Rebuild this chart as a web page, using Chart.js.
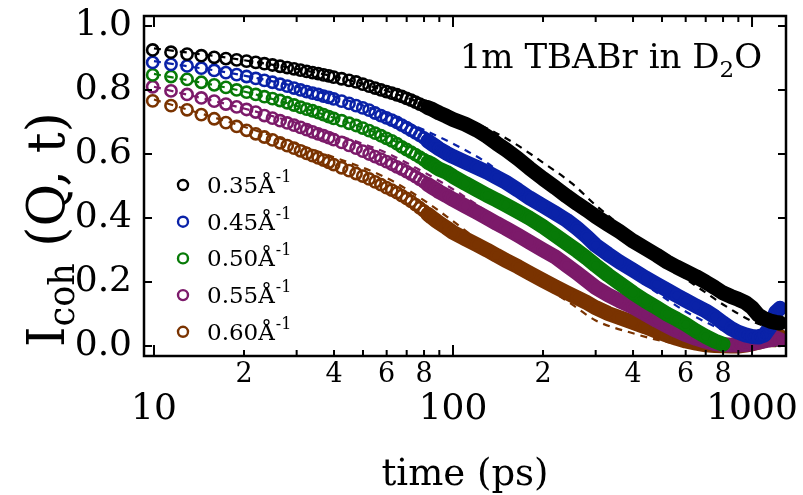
<!DOCTYPE html>
<html>
<head>
<meta charset="utf-8">
<script src="https://cdn.jsdelivr.net/npm/chart.js@4/dist/chart.umd.min.js"></script>
<style>
  body { margin: 0; background: #fff; }
</style>
</head>
<body>
<canvas id="chart" width="803" height="495"></canvas>
<script>
// time axis (ps)
const times = [
  9.9, 11.4, 12.9, 14.4, 15.9, 17.4, 18.9, 20.4, 21.9, 23.4, 24.9, 26.4, 27.9, 29.4, 30.9, 32.4, 33.9, 35.4, 36.9, 38.4, 39.9,
  42.4, 44.9, 47.4, 49.9, 52.4, 54.9, 57.4, 59.9, 62.4, 64.9, 67.4, 69.9, 72.4, 74.9, 77.4, 79.9, 82.4, 84.9, 87.4, 89.9,
  95, 100, 110, 120, 130, 140, 150, 165, 180, 200, 220, 240, 260, 280, 300, 330, 360, 400, 440, 480, 520, 560, 600, 650,
  700, 750, 800, 850, 900, 950, 1000, 1050, 1100, 1150, 1200, 1240
];

const q035 = [
  0.925, 0.918, 0.912, 0.907, 0.902, 0.898, 0.894, 0.890, 0.886, 0.882, 0.878, 0.874, 0.870, 0.866, 0.862, 0.858, 0.854, 0.851, 0.847, 0.844, 0.840,
  0.835, 0.830, 0.825, 0.818, 0.812, 0.806, 0.800, 0.795, 0.790, 0.785, 0.780, 0.774, 0.768, 0.762, 0.756, 0.750, 0.745, 0.740, 0.734, 0.728,
  0.718, 0.708, 0.693, 0.675, 0.655, 0.633, 0.614, 0.585, 0.556, 0.523, 0.495, 0.468, 0.445, 0.425, 0.405, 0.380, 0.358, 0.328, 0.305, 0.284,
  0.263, 0.247, 0.233, 0.217, 0.200, 0.183, 0.166, 0.155, 0.146, 0.136, 0.120, 0.097, 0.085, 0.078, 0.074, 0.072
];
const q045 = [
  0.886, 0.880, 0.875, 0.868, 0.861, 0.854, 0.848, 0.842, 0.836, 0.830, 0.824, 0.818, 0.812, 0.806, 0.800, 0.795, 0.790, 0.786, 0.781, 0.777, 0.772,
  0.765, 0.758, 0.751, 0.744, 0.737, 0.728, 0.720, 0.713, 0.706, 0.699, 0.690, 0.682, 0.674, 0.666, 0.658, 0.650, 0.641, 0.632, 0.624, 0.616,
  0.603, 0.592, 0.574, 0.558, 0.543, 0.527, 0.512, 0.487, 0.463, 0.438, 0.415, 0.393, 0.368, 0.342, 0.315, 0.287, 0.263, 0.237, 0.213, 0.193,
  0.175, 0.158, 0.143, 0.125, 0.110, 0.092, 0.072, 0.055, 0.043, 0.035, 0.030, 0.028, 0.035, 0.060, 0.105, 0.118
];
const q050 = [
  0.847, 0.842, 0.833, 0.824, 0.816, 0.808, 0.800, 0.793, 0.786, 0.779, 0.773, 0.767, 0.760, 0.753, 0.746, 0.740, 0.735, 0.729, 0.723, 0.717, 0.711,
  0.704, 0.696, 0.689, 0.681, 0.673, 0.665, 0.657, 0.649, 0.641, 0.632, 0.622, 0.614, 0.606, 0.598, 0.590, 0.582, 0.574, 0.568, 0.560, 0.553,
  0.543, 0.530, 0.508, 0.489, 0.471, 0.456, 0.441, 0.420, 0.400, 0.373, 0.346, 0.321, 0.298, 0.275, 0.252, 0.222, 0.197, 0.166, 0.141, 0.120,
  0.100, 0.084, 0.068, 0.047, 0.030, 0.016, 0.006
];
const q055 = [
  0.810, 0.797, 0.786, 0.775, 0.765, 0.756, 0.747, 0.739, 0.731, 0.720, 0.712, 0.704, 0.697, 0.690, 0.683, 0.676, 0.669, 0.663, 0.657, 0.651, 0.645,
  0.636, 0.627, 0.618, 0.609, 0.600, 0.592, 0.584, 0.576, 0.568, 0.560, 0.553, 0.545, 0.537, 0.529, 0.521, 0.513, 0.505, 0.497, 0.490, 0.482,
  0.470, 0.458, 0.437, 0.418, 0.400, 0.383, 0.368, 0.346, 0.325, 0.300, 0.278, 0.252, 0.228, 0.205, 0.183, 0.160, 0.142, 0.122, 0.100, 0.080,
  0.063, 0.048, 0.036, 0.024, 0.015, 0.008, 0.005, 0.003, 0.003, 0.005, 0.008, 0.012, 0.016, 0.020, 0.025, 0.020
];
const q060 = [
  0.766, 0.751, 0.738, 0.723, 0.710, 0.698, 0.686, 0.674, 0.663, 0.653, 0.644, 0.635, 0.626, 0.618, 0.610, 0.602, 0.595, 0.588, 0.581, 0.574, 0.567,
  0.557, 0.548, 0.539, 0.531, 0.522, 0.513, 0.504, 0.495, 0.487, 0.479, 0.470, 0.461, 0.452, 0.442, 0.432, 0.422, 0.412, 0.402, 0.393, 0.385,
  0.370, 0.355, 0.335, 0.317, 0.300, 0.283, 0.268, 0.248, 0.228, 0.205, 0.185, 0.167, 0.151, 0.136, 0.120, 0.102, 0.089, 0.074, 0.060, 0.046,
  0.034, 0.024, 0.016, 0.009, 0.004, 0.002, 0.001, 0.000, 0.000, 0.003, 0.007, 0.012, 0.018, 0.026, 0.034, 0.030
];

// model fits (dashed)
const fitTimes = [10, 20, 40, 60, 80, 100, 130, 160, 200, 250, 300, 400, 500, 600, 700, 800, 1000, 1240];
const fit035 = [0.930, 0.893, 0.842, 0.797, 0.757, 0.727, 0.680, 0.634, 0.573, 0.508, 0.440, 0.345, 0.265, 0.210, 0.167, 0.130, 0.078, 0.045];
const fit045 = [0.890, 0.845, 0.780, 0.725, 0.675, 0.632, 0.572, 0.508, 0.440, 0.370, 0.310, 0.220, 0.156, 0.108, 0.075, 0.050, 0.020, 0.008];
const fit050 = [0.850, 0.795, 0.713, 0.652, 0.592, 0.545, 0.485, 0.433, 0.375, 0.305, 0.250, 0.160, 0.100, 0.062, 0.036, 0.020, 0.006, 0.001];
const fit055 = [0.810, 0.742, 0.662, 0.603, 0.543, 0.490, 0.420, 0.362, 0.302, 0.240, 0.190, 0.118, 0.070, 0.040, 0.022, 0.011, 0.003, 0.000];
const fit060 = [0.770, 0.685, 0.590, 0.525, 0.455, 0.390, 0.310, 0.250, 0.190, 0.130, 0.080, 0.040, 0.016, 0.003, 0.000, 0.000, 0.000, 0.000];

const qLabels = ['0.35', '0.45', '0.50', '0.55', '0.60'];
const colors = ['#000000', '#0a22a8', '#077a07', '#7c1a6a', '#7a3300'];

const xTickValues = [10, 20, 30, 40, 50, 60, 70, 80, 90, 100, 200, 300, 400, 500, 600, 700, 800, 900, 1000];
const xMajor = [10, 100, 1000];
const xLabelled = [20, 40, 60, 80, 200, 400, 600, 800];
const yTickValues = [0, 0.1, 0.2, 0.3, 0.4, 0.5, 0.6, 0.7, 0.8, 0.9, 1.0];

const serif = '"DejaVu Serif", "Liberation Serif", serif';
const bandStart = 80;

function points(ts, vals) {
    return vals.map((v, i) => ({x: ts[i], y: v}));
}

const series = [q035, q045, q050, q055, q060];
const fits = [fit035, fit045, fit050, fit055, fit060];

const datasets = [];
series.forEach((vals, i) => {
    datasets.push({
        label: qLabels[i],
        data: points(times, vals),
        order: 0,
        showLine: true,
        borderColor: colors[i],
        borderWidth: 15,
        borderJoinStyle: 'round',
        borderCapStyle: 'round',
        segment: {
            borderColor: c => c.p0.parsed.x >= bandStart ? colors[i] : 'rgba(0,0,0,0)'
        },
        pointStyle: 'circle',
        pointRadius: 5.6,
        pointBorderWidth: 2.6,
        pointBorderColor: colors[i],
        pointBackgroundColor: 'rgba(0,0,0,0)',
        clip: 0
    });
});
fits.forEach((vals, i) => {
    datasets.push({
        label: 'fit ' + qLabels[i],
        data: points(fitTimes, vals),
        order: 1,
        showLine: true,
        borderColor: colors[i],
        borderWidth: 2.2,
        borderDash: [7, 6],
        cubicInterpolationMode: 'monotone',
        pointRadius: 0,
        clip: 0
    });
});

const decor = {
    id: 'decor',
    afterDatasetsDraw(chart) {
        const {ctx, chartArea: a, scales: {x, y}} = chart;
        ctx.save();
        ctx.strokeStyle = '#000';
        ctx.lineWidth = 2;
        ctx.beginPath();
        x.ticks.forEach(t => {
            const px = x.getPixelForValue(t.value);
            const len = xMajor.includes(t.value) ? 11 : 6;
            ctx.moveTo(px, a.bottom); ctx.lineTo(px, a.bottom - len);
            ctx.moveTo(px, a.top); ctx.lineTo(px, a.top + len);
        });
        y.ticks.forEach(t => {
            const py = y.getPixelForValue(t.value);
            ctx.moveTo(a.left, py); ctx.lineTo(a.left + 8, py);
            ctx.moveTo(a.right, py); ctx.lineTo(a.right - 8, py);
        });
        ctx.stroke();
        ctx.lineWidth = 2.5;
        ctx.strokeRect(a.left, a.top, a.right - a.left, a.bottom - a.top);

        // annotation, right aligned
        ctx.fillStyle = '#000';
        ctx.textBaseline = 'alphabetic';
        ctx.textAlign = 'left';
        const big = '34px ' + serif, sub = '23px ' + serif;
        ctx.font = big;
        const w1 = ctx.measureText('1m TBABr in D').width;
        const w3 = ctx.measureText('O').width;
        ctx.font = sub;
        const w2 = ctx.measureText('2').width;
        let tx = a.right - 24 - (w1 + w2 + w3);
        const ty = a.top + 52;
        ctx.font = big;
        ctx.fillText('1m TBABr in D', tx, ty);
        ctx.font = sub;
        ctx.fillText('2', tx + w1, ty + 9);
        ctx.font = big;
        ctx.fillText('O', tx + w1 + w2, ty);

        // legend
        qLabels.forEach((q, i) => {
            const ry = a.top + 169 + i * 36.7;
            ctx.strokeStyle = colors[i];
            ctx.lineWidth = 2.4;
            ctx.beginPath();
            ctx.arc(a.left + 39, ry, 5, 0, Math.PI * 2);
            ctx.stroke();
            ctx.fillStyle = '#000';
            ctx.font = '23px ' + serif;
            const label = q + 'Å';
            ctx.fillText(label, a.left + 63, ry + 8);
            const lw = ctx.measureText(label).width;
            ctx.font = '16px ' + serif;
            ctx.fillText('-1', a.left + 63 + lw + 1, ry - 3);
        });
        ctx.restore();
    },
    afterDraw(chart) {
        const {ctx, chartArea: a} = chart;
        ctx.save();
        ctx.fillStyle = '#000';
        ctx.textBaseline = 'alphabetic';
        ctx.textAlign = 'left';
        ctx.translate(64, a.bottom - 9);
        ctx.rotate(-Math.PI / 2);
        ctx.font = '52px ' + serif;
        ctx.fillText('I', 0, 0);
        let w = ctx.measureText('I').width;
        ctx.font = '35px ' + serif;
        ctx.fillText('coh', w, 10);
        w += ctx.measureText('coh').width;
        ctx.font = '52px ' + serif;
        ctx.fillText(' (Q, t)', w, 0);
        ctx.restore();
    }
};

new Chart(document.getElementById('chart'), {
    type: 'scatter',
    data: {datasets: datasets},
    options: {
        responsive: false,
        animation: false,
        events: [],
        layout: {padding: {left: 0, right: 17, top: 16, bottom: 0}},
        scales: {
            x: {
                type: 'logarithmic',
                min: 9.26,
                max: 1299,
                grid: {display: false, drawTicks: false},
                border: {display: false},
                afterBuildTicks: axis => { axis.ticks = xTickValues.map(v => ({value: v})); },
                afterFit: axis => { axis.height = 139; axis.paddingLeft = 0; axis.paddingRight = 0; },
                ticks: {
                    autoSkip: false,
                    maxRotation: 0,
                    minRotation: 0,
                    padding: 3,
                    color: '#000',
                    font: c => (c.tick && xMajor.includes(c.tick.value))
                        ? {family: serif, size: 36, lineHeight: 0.944}
                        : {family: serif, size: 27, lineHeight: 1.2},
                    callback: v => {
                        if (xMajor.includes(v)) return ['', String(v)];
                        if (xLabelled.includes(v)) return String(Math.round(v / Math.pow(10, Math.floor(Math.log10(v)))));
                        return '';
                    }
                },
                title: {
                    display: true,
                    text: 'time (ps)',
                    color: '#000',
                    font: {family: serif, size: 37, lineHeight: 1.05},
                    padding: {top: 0, bottom: 0}
                }
            },
            y: {
                min: -0.031,
                max: 1.031,
                grid: {display: false, drawTicks: false},
                border: {display: false},
                afterBuildTicks: axis => { axis.ticks = yTickValues.map(v => ({value: v})); },
                afterFit: axis => { axis.width = 144; axis.paddingTop = 0; axis.paddingBottom = 0; },
                ticks: {
                    padding: 12,
                    color: '#000',
                    font: {family: serif, size: 36},
                    callback: v => (Math.round(v * 10) % 2 === 0 ? v.toFixed(1) : '')
                }
            }
        },
        plugins: {
            legend: {display: false},
            tooltip: {enabled: false}
        }
    },
    plugins: [decor]
});
</script>
</body>
</html>
